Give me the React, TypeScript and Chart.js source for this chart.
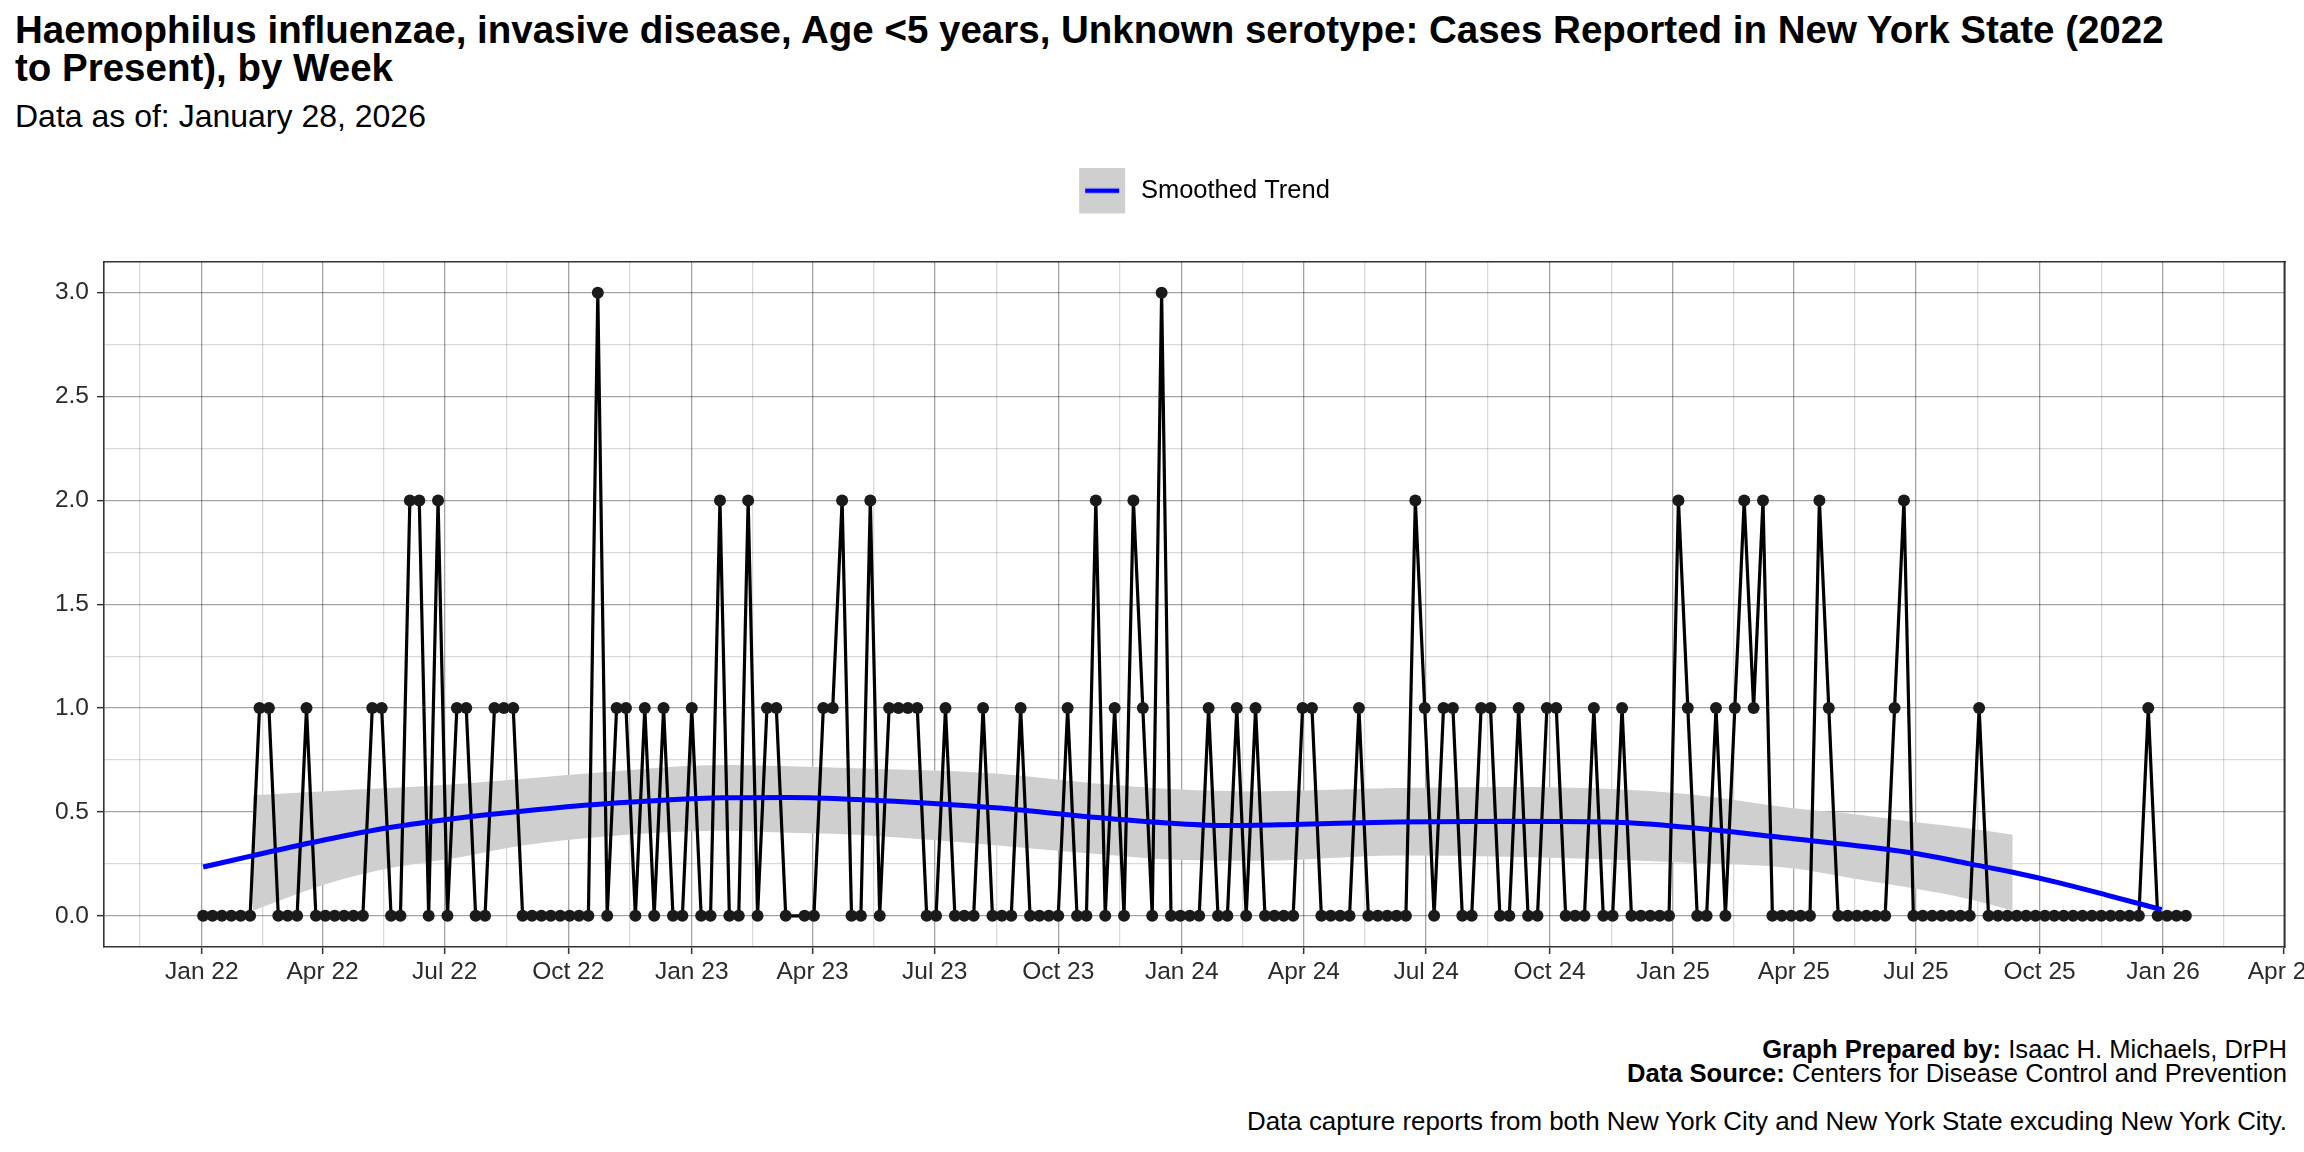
import React, { useEffect, useRef } from 'react';
import { Chart, registerables } from 'chart.js';

Chart.register(...registerables);

const FONT = '"Liberation Sans", Arial, Helvetica, sans-serif';

const TITLE_LINES = [
  'Haemophilus influenzae, invasive disease, Age <5 years, Unknown serotype: Cases Reported in New York State (2022',
  'to Present), by Week',
];
const SUBTITLE = 'Data as of: January 28, 2026';
const LEGEND_LABEL = 'Smoothed Trend';
const SERIES_LABEL = 'Cases';

// Weekly case counts, one entry per week starting at FIRST_WEEK (null = week not reported)
const FIRST_WEEK = '2022-01-02';
const weeklyCases: (number | null)[] = [
  0, 0, 0, 0, 0, 0, 1, 1, 0, 0,
  0, 1, 0, 0, 0, 0, 0, 0, 1, 1,
  0, 0, 2, 2, 0, 2, 0, 1, 1, 0,
  0, 1, 1, 1, 0, 0, 0, 0, 0, 0,
  0, 0, 3, 0, 1, 1, 0, 1, 0, 1,
  0, 0, 1, 0, 0, 2, 0, 0, 2, 0,
  1, 1, 0, null, 0, 0, 1, 1, 2, 0,
  0, 2, 0, 1, 1, 1, 1, 0, 0, 1,
  0, 0, 0, 1, 0, 0, 0, 1, 0, 0,
  0, 0, 1, 0, 0, 2, 0, 1, 0, 2,
  1, 0, 3, 0, 0, 0, 0, 1, 0, 0,
  1, 0, 1, 0, 0, 0, 0, 1, 1, 0,
  0, 0, 0, 1, 0, 0, 0, 0, 0, 2,
  1, 0, 1, 1, 0, 0, 1, 1, 0, 0,
  1, 0, 0, 1, 1, 0, 0, 0, 1, 0,
  0, 1, 0, 0, 0, 0, 0, 2, 1, 0,
  0, 1, 0, 1, 2, 1, 2, 0, 0, 0,
  0, 0, 2, 1, 0, 0, 0, 0, 0, 0,
  1, 2, 0, 0, 0, 0, 0, 0, 0, 1,
  0, 0, 0, 0, 0, 0, 0, 0, 0, 0,
  0, 0, 0, 0, 0, 0, 0, 1, 0, 0,
  0, 0,
];

// Smoothed trend (loess)
const trendDates = [
  '2022-01-02', '2022-02-08', '2022-04-02', '2022-05-21', '2022-07-10', '2022-08-29',
  '2022-10-24', '2023-01-24', '2023-03-15', '2023-05-04', '2023-08-15', '2023-10-25',
  '2023-12-27', '2024-02-03', '2024-03-24', '2024-06-10', '2024-09-01', '2024-11-20',
  '2025-01-13', '2025-03-29', '2025-05-15', '2025-07-01', '2025-08-10', '2025-09-11',
  '2025-10-15', '2025-11-20', '2025-12-31',
];
const trendValues = [
  0.235, 0.29, 0.365, 0.425, 0.47, 0.505,
  0.537, 0.568, 0.57, 0.56, 0.52, 0.476,
  0.445, 0.435, 0.44, 0.452, 0.455, 0.45,
  0.425, 0.373, 0.34, 0.30, 0.25, 0.21,
  0.16, 0.10, 0.03,
];

// Confidence band of the smoothed trend
const bandDates = [
  '2022-02-08', '2022-04-02', '2022-05-21', '2022-07-10', '2022-08-29', '2022-10-24',
  '2023-01-24', '2023-03-15', '2023-05-04', '2023-08-15', '2023-10-25', '2023-12-27',
  '2024-03-01', '2024-06-10', '2024-09-01', '2024-11-20', '2025-01-13', '2025-03-29',
  '2025-05-15', '2025-07-01', '2025-08-10', '2025-09-11',
];
const bandUpper = [
  0.58, 0.60, 0.615, 0.635, 0.66, 0.69,
  0.726, 0.72, 0.71, 0.685, 0.64, 0.61,
  0.60, 0.615, 0.62, 0.61, 0.585, 0.52,
  0.49, 0.45, 0.42, 0.39,
];
const bandLower = [
  0.025, 0.15, 0.23, 0.28, 0.34, 0.38,
  0.41, 0.40, 0.39, 0.34, 0.30, 0.27,
  0.265, 0.29, 0.285, 0.27, 0.255, 0.23,
  0.18, 0.13, 0.08, 0.025,
];

// Axis breaks
const xBreakDates = [
  '2021-10-01', '2022-01-01', '2022-04-01', '2022-07-01', '2022-10-01', '2023-01-01',
  '2023-04-01', '2023-07-01', '2023-10-01', '2024-01-01', '2024-04-01', '2024-07-01',
  '2024-10-01', '2025-01-01', '2025-04-01', '2025-07-01', '2025-10-01', '2026-01-01',
  '2026-04-01',
];
const xBreakLabels = [
  'Oct 21', 'Jan 22', 'Apr 22', 'Jul 22', 'Oct 22', 'Jan 23',
  'Apr 23', 'Jul 23', 'Oct 23', 'Jan 24', 'Apr 24', 'Jul 24',
  'Oct 24', 'Jan 25', 'Apr 25', 'Jul 25', 'Oct 25', 'Jan 26',
  'Apr 26',
];
const yBreaks = [0, 0.5, 1, 1.5, 2, 2.5, 3];

const FOOTER_LINES: [string, string][] = [
  ['Graph Prepared by:', ' Isaac H. Michaels, DrPH'],
  ['Data Source:', ' Centers for Disease Control and Prevention'],
];
const CAPTION = 'Data capture reports from both New York City and New York State excuding New York City.';

const toDay = (s: string) => {
  const [y, m, d] = s.split('-').map(Number);
  return Date.UTC(y, m - 1, d) / 86400000;
};

const MAJOR_GRID = 'rgba(0,0,0,0.36)';
const MINOR_GRID = 'rgba(0,0,0,0.15)';
const BAND = '#cfcfcf';
const AXIS_TEXT = '#2b2b2b';
const BORDER = '#333333';

export default function App() {
  const ref = useRef<HTMLCanvasElement | null>(null);

  useEffect(() => {
    if (!ref.current) return;

    const first = toDay(FIRST_WEEK);
    const weekX = weeklyCases.map((_, i) => first + 7 * i);
    const lastX = weekX[weekX.length - 1];
    const span = lastX - first;
    const xMin = first - 0.05 * span;
    const xMax = lastX + 0.05 * span;

    const numeric = weeklyCases.filter((v): v is number => v !== null);
    const yTop = Math.max(...numeric);
    const yMin = -0.05 * yTop;
    const yMax = yTop + 0.05 * yTop;

    const majorX = xBreakDates.map(toDay);
    const minorX = majorX.slice(1).map((v, i) => (v + majorX[i]) / 2);
    const xTicks = [...majorX, ...minorX].filter((v) => v >= xMin && v <= xMax).sort((a, b) => a - b);
    const xLabel = new Map<number, string>();
    majorX.forEach((v, i) => xLabel.set(v, xBreakLabels[i]));
    const isMajorX = (v: number) => xLabel.has(v);

    const minorY = yBreaks.slice(1).map((v, i) => (v + yBreaks[i]) / 2);
    const yTicks = [...yBreaks, ...minorY].filter((v) => v >= yMin && v <= yMax).sort((a, b) => a - b);
    const isMajorY = (v: number) => yBreaks.some((b) => Math.abs(b - v) < 1e-9);

    // legend key: grey band square with a blue line, with transparent margins for spacing
    const KEY_LEFT = 20;
    const KEY_SIZE = 46;
    const KEY_RIGHT = 3;
    const key = document.createElement('canvas');
    key.width = KEY_LEFT + KEY_SIZE + KEY_RIGHT;
    key.height = KEY_SIZE;
    const kctx = key.getContext('2d')!;
    kctx.fillStyle = BAND;
    kctx.fillRect(KEY_LEFT, 0, KEY_SIZE, KEY_SIZE);
    kctx.strokeStyle = '#0000ff';
    kctx.lineWidth = 4.5;
    kctx.beginPath();
    kctx.moveTo(KEY_LEFT + 6, KEY_SIZE / 2);
    kctx.lineTo(KEY_LEFT + KEY_SIZE - 6, KEY_SIZE / 2);
    kctx.stroke();

    const tickFont = { family: FONT, size: 24.5 };

    const chart = new Chart(ref.current, {
      type: 'line',
      data: {
        datasets: [
          {
            label: LEGEND_LABEL,
            data: trendDates.map((d, i) => ({ x: toDay(d), y: trendValues[i] })),
            borderColor: '#0000ff',
            backgroundColor: '#0000ff',
            borderWidth: 5,
            pointRadius: 0,
            cubicInterpolationMode: 'monotone',
            fill: false,
            order: 0,
          },
          {
            label: SERIES_LABEL,
            data: weeklyCases.map((v, i) => ({ x: weekX[i], y: v })),
            borderColor: '#000000',
            backgroundColor: '#1a1a1a',
            borderWidth: 3.2,
            pointRadius: 6,
            pointBorderWidth: 0,
            pointBackgroundColor: '#1a1a1a',
            spanGaps: true,
            tension: 0,
            fill: false,
            order: 1,
          },
          {
            label: 'band-lower',
            data: bandDates.map((d, i) => ({ x: toDay(d), y: bandLower[i] })),
            borderWidth: 0,
            borderColor: 'rgba(0,0,0,0)',
            pointRadius: 0,
            cubicInterpolationMode: 'monotone',
            fill: false,
            order: 3,
          },
          {
            label: 'band-upper',
            data: bandDates.map((d, i) => ({ x: toDay(d), y: bandUpper[i] })),
            borderWidth: 0,
            borderColor: 'rgba(0,0,0,0)',
            backgroundColor: BAND,
            pointRadius: 0,
            cubicInterpolationMode: 'monotone',
            fill: { target: 2 },
            order: 2,
          },
        ],
      },
      options: {
        responsive: false,
        animation: false,
        events: [],
        layout: { padding: { top: 28, left: 0, right: 0, bottom: 0 } },
        plugins: {
          tooltip: { enabled: false },
          title: { display: false },
          legend: {
            display: true,
            position: 'top',
            fullSize: false,
            labels: {
              filter: (item: any) => item.datasetIndex === 0,
              usePointStyle: true,
              pointStyle: key as any,
              pointStyleWidth: KEY_LEFT + KEY_SIZE + KEY_RIGHT,
              font: { family: FONT, size: 25.5 },
              color: '#000000',
              padding: 10,
            },
          },
        },
        scales: {
          x: {
            type: 'linear',
            position: 'bottom',
            min: xMin,
            max: xMax,
            afterBuildTicks: (s: any) => {
              s.ticks = xTicks.map((v) => ({ value: v }));
            },
            afterFit: (s: any) => {
              s.paddingLeft = 0;
              s.paddingRight = 0;
              s.height = 44;
            },
            ticks: {
              autoSkip: false,
              maxRotation: 0,
              minRotation: 0,
              padding: 4,
              color: AXIS_TEXT,
              font: tickFont,
              callback: (v: any) => xLabel.get(Number(v)) ?? '',
            },
            grid: {
              color: (c: any) => (isMajorX(c.tick.value) ? MAJOR_GRID : MINOR_GRID),
              lineWidth: 1.3,
              drawTicks: true,
              tickLength: 7,
              tickWidth: 1.5,
              tickColor: (c: any) => (isMajorX(c.tick.value) ? BORDER : 'rgba(0,0,0,0)'),
            },
            border: { display: true, color: BORDER, width: 1.6 },
          },
          y: {
            type: 'linear',
            position: 'left',
            min: yMin,
            max: yMax,
            afterBuildTicks: (s: any) => {
              s.ticks = yTicks.map((v) => ({ value: v }));
            },
            afterFit: (s: any) => {
              s.width = 104;
            },
            ticks: {
              autoSkip: false,
              padding: 8,
              color: AXIS_TEXT,
              font: tickFont,
              callback: (v: any) => (isMajorY(Number(v)) ? Number(v).toFixed(1) : ''),
            },
            grid: {
              color: (c: any) => (isMajorY(c.tick.value) ? MAJOR_GRID : MINOR_GRID),
              lineWidth: 1.3,
              drawTicks: true,
              tickLength: 7,
              tickWidth: 1.5,
              tickColor: (c: any) => (isMajorY(c.tick.value) ? BORDER : 'rgba(0,0,0,0)'),
            },
            border: { display: true, color: BORDER, width: 1.6 },
          },
          x2: {
            type: 'linear',
            position: 'top',
            display: true,
            ticks: { display: false },
            grid: { display: false, drawTicks: false },
            border: { display: true, color: BORDER, width: 1.6 },
            afterFit: (s: any) => {
              s.height = 48;
            },
          },
          y2: {
            type: 'linear',
            position: 'right',
            display: true,
            ticks: { display: false },
            grid: { display: false, drawTicks: false },
            border: { display: true, color: BORDER, width: 1.6 },
            afterFit: (s: any) => {
              s.width = 19;
            },
          },
        },
      } as any,
    });

    return () => chart.destroy();
  }, []);

  return (
    <div
      style={{
        position: 'fixed',
        left: 0,
        top: 0,
        width: 2304,
        height: 1152,
        background: '#ffffff',
        overflow: 'hidden',
        fontFamily: FONT,
        color: '#000000',
      }}
    >
      <div
        style={{
          position: 'absolute',
          left: 15,
          top: 11,
          fontSize: 38.5,
          fontWeight: 'bold',
          lineHeight: '38px',
          whiteSpace: 'nowrap',
        }}
      >
        {TITLE_LINES.map((l) => (
          <div key={l}>{l}</div>
        ))}
      </div>
      <div style={{ position: 'absolute', left: 15, top: 98, fontSize: 32, lineHeight: '36px', whiteSpace: 'nowrap' }}>
        {SUBTITLE}
      </div>
      <canvas
        ref={ref}
        width={2304}
        height={851}
        style={{ position: 'absolute', left: 0, top: 140, width: 2304, height: 851 }}
      />
      {FOOTER_LINES.map(([b, t], i) => (
        <div
          key={b}
          style={{
            position: 'absolute',
            right: 17,
            top: 1037 + 24 * i,
            fontSize: 25.6,
            lineHeight: '24px',
            whiteSpace: 'nowrap',
            textAlign: 'right',
          }}
        >
          <b>{b}</b>
          {t}
        </div>
      ))}
      <div
        style={{
          position: 'absolute',
          right: 17,
          top: 1109,
          fontSize: 25.9,
          lineHeight: '24px',
          whiteSpace: 'nowrap',
          textAlign: 'right',
        }}
      >
        {CAPTION}
      </div>
    </div>
  );
}
